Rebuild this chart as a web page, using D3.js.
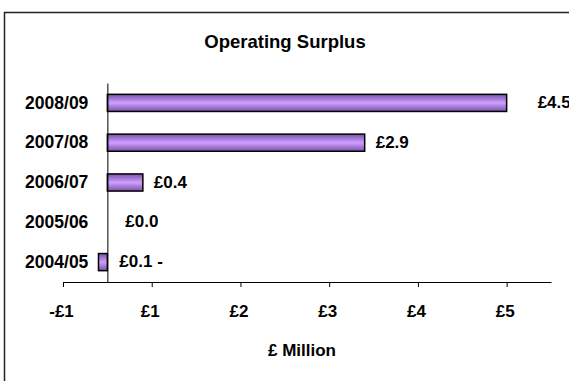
<!DOCTYPE html>
<html>
<head>
<meta charset="utf-8">
<script src="https://cdn.jsdelivr.net/npm/d3@7"></script>
<style>
  html, body { margin: 0; padding: 0; background: #fff; }
  svg { display: block; }
  text { font-family: "Liberation Sans", Arial, sans-serif; font-weight: bold; fill: #000; }
</style>
</head>
<body>
<script>
// Operating surplus by financial year (£ million)
const years = ["2004/05", "2005/06", "2006/07", "2007/08", "2008/09"];
const surplus = [-0.1, 0.0, 0.4, 2.9, 4.5];
const valueLabels = ["£0.1 -", "£0.0", "£0.4", "£2.9", "£4.5"];
const tickValues = [-0.5, 0.5, 1.5, 2.5, 3.5, 4.5];
const tickLabels = ["-£1", "£1", "£2", "£3", "£4", "£5"];

const W = 569, H = 381;
const FONT = "'Liberation Sans', Arial, sans-serif";
const svg = d3.select("body").append("svg").attr("width", W).attr("height", H);

// chart frame (runs off the right and bottom edges)
svg.append("rect")
  .attr("x", 4.5).attr("y", 12.5)
  .attr("width", W + 20).attr("height", H + 20)
  .attr("fill", "#fff").attr("stroke", "#222").attr("stroke-width", 1.5);

// striped purple fill for the bars
const defs = svg.append("defs");
const grad = defs.append("linearGradient").attr("id", "barFill")
  .attr("x1", 0).attr("y1", 0).attr("x2", 0).attr("y2", 1);
[["0%", "#7a56a8"], ["20%", "#9a70cc"], ["50%", "#cf9fff"], ["80%", "#9a70cc"], ["100%", "#7a56a8"]]
  .forEach(([o, c]) => grad.append("stop").attr("offset", o).attr("stop-color", c));

const plot = { left: 63, right: 551, top: 83, bottom: 282 };

const x = d3.scaleLinear().domain([-0.5, 5.0]).range([plot.left, plot.right]);
const y = d3.scaleBand().domain(years.slice().reverse()).range([plot.top, plot.bottom]);
const barH = y.bandwidth() * 0.43;

svg.append("text")
  .attr("x", 285).attr("y", 48)
  .attr("text-anchor", "middle")
  .style("font-size", "18.5px")
  .text("Operating Surplus");

// bottom value axis
const xAxis = d3.axisBottom(x)
  .tickValues(tickValues)
  .tickFormat((d, i) => tickLabels[i])
  .tickSizeInner(5).tickSizeOuter(0).tickPadding(18);
const gx = svg.append("g")
  .attr("transform", `translate(0,${plot.bottom})`)
  .call(xAxis);
gx.select(".domain").attr("stroke", "#000").attr("stroke-width", 1.2);
gx.selectAll(".tick line").attr("stroke", "#000");
gx.selectAll(".tick text")
  .attr("dx", -2)
  .style("font-size", "17px").style("font-family", FONT)
  .style("font-weight", "bold").attr("fill", "#000");

svg.append("text")
  .attr("x", 302).attr("y", 356)
  .attr("text-anchor", "middle")
  .style("font-size", "17px")
  .text("£ Million");

// bars
const rows = years.map((yr, i) => ({ yr, v: surplus[i], label: valueLabels[i] }));
svg.append("g").selectAll("rect")
  .data(rows.filter(d => d.v !== 0))
  .join("rect")
  .attr("x", d => x(Math.min(0, d.v)))
  .attr("y", d => y(d.yr) + (y.bandwidth() - barH) / 2)
  .attr("width", d => Math.abs(x(d.v) - x(0)))
  .attr("height", barH)
  .attr("fill", "url(#barFill)")
  .attr("stroke", "#000").attr("stroke-width", 1.5);

// zero line / category axis
const yAxis = d3.axisLeft(y).tickSize(0).tickPadding(19);
const gy = svg.append("g")
  .attr("transform", `translate(${x(0)},0)`)
  .call(yAxis);
gy.select(".domain").attr("stroke", "#000").attr("stroke-width", 1);
gy.selectAll(".tick text")
  .style("font-size", "17.5px").style("font-family", FONT)
  .style("font-weight", "bold").attr("fill", "#000");

// value labels, placed just beyond the bar end (largest one pushed out further)
function labelGap(v) {
  if (v > 4) return 31;
  if (v === 0) return 18;
  if (v < 0) return 12;
  return 11;
}
svg.append("g").selectAll("text")
  .data(rows)
  .join("text")
  .attr("x", d => x(Math.max(0, d.v)) + labelGap(d.v))
  .attr("y", d => y(d.yr) + y.bandwidth() / 2)
  .attr("dy", "0.3em")
  .style("font-size", "17px")
  .text(d => d.label);
</script>
</body>
</html>
